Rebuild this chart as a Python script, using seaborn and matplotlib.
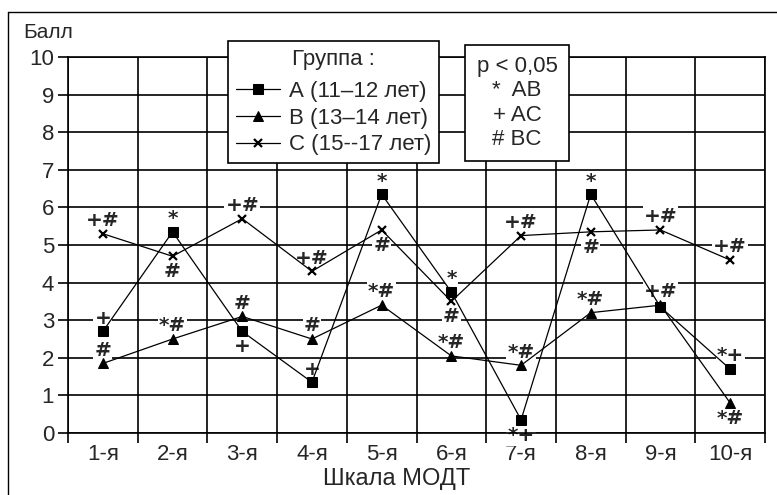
import matplotlib
matplotlib.use("Agg")
import matplotlib.pyplot as plt
import seaborn as sns
import pandas as pd
import numpy as np
from matplotlib.lines import Line2D
from matplotlib.ticker import FixedLocator

# ---- data ----
categories = ["1-я", "2-я", "3-я", "4-я", "5-я", "6-я", "7-я", "8-я", "9-я", "10-я"]
group_a = [2.7, 5.35, 2.7, 1.35, 6.35, 3.75, 0.35, 6.35, 3.35, 1.7]
group_b = [1.85, 2.5, 3.1, 2.5, 3.4, 2.05, 1.8, 3.2, 3.4, 0.8]
group_c = [5.3, 4.7, 5.7, 4.3, 5.4, 3.5, 5.25, 5.35, 5.4, 4.6]
series_labels = ["А (11–12 лет)", "В (13–14 лет)", "С (15--17 лет)"]
legend_title = "Группа :"
sig_lines = ["p < 0,05", "*  AB", "+ AC", "# BC"]

# significance marks per point and side (1 above, -1 below)
marks_a = ["+", "*", "+", "+", "*", "*", "*+", "*", "", "*+"]
side_a = [1, 1, -1, 1, 1, 1, -1, 1, 1, 1]
marks_b = ["#", "*#", "#", "#", "*#", "*#", "*#", "*#", "+#", "*#"]
side_b = [1, 1, 1, 1, 1, 1, 1, 1, 1, -1]
marks_c = ["+#", "#", "+#", "+#", "#", "#", "+#", "#", "+#", "+#"]
side_c = [1, -1, 1, 1, -1, -1, 1, -1, 1, 1]

W, H = 777, 495
FS = 16
sns.set_theme(style="white")
plt.rcParams["font.family"] = ["Liberation Sans", "DejaVu Sans"]

fig = plt.figure(figsize=(W / 100, H / 100), dpi=100)
ax = fig.add_axes([68 / W, 1 - 433 / H, (765 - 68) / W, (433 - 57) / H])

pos = np.arange(len(categories))
df = pd.DataFrame({"pos": np.tile(pos, 3),
                   "score": group_a + group_b + group_c,
                   "group": np.repeat(series_labels, len(categories))})

styles = {series_labels[0]: dict(marker="s", markersize=7),
          series_labels[1]: dict(marker="^", markersize=7),
          series_labels[2]: dict(marker="x", markersize=5.5, markeredgewidth=1.6)}
for lab in series_labels:
    sub = df[df["group"] == lab]
    sns.lineplot(data=sub, x="pos", y="score", ax=ax, color="black", lw=0.9,
                 label=lab, sort=False, zorder=3, markeredgecolor="black",
                 markerfacecolor="black", **styles[lab])

ax.set_xlim(-0.5, len(categories) - 0.5)
ax.set_ylim(0, 10)
ax.set_yticks(range(0, 11))
ax.set_xticks(pos)
ax.set_xticklabels(categories)
ax.xaxis.set_minor_locator(FixedLocator(np.arange(-0.5, len(categories), 1.0)))
ax.grid(False)
ax.grid(axis="y", which="major", color="black", lw=1.2, zorder=0)
ax.grid(axis="x", which="minor", color="black", lw=1.2, zorder=0)
ax.tick_params(axis="y", which="major", length=7, width=1.2, color="black",
               direction="out", labelsize=FS, pad=3, left=True)
ax.tick_params(axis="x", which="major", length=0, labelsize=FS, pad=8)
ax.tick_params(axis="x", which="minor", length=7, width=1.2, color="black",
               direction="out", bottom=True)
for s in ax.spines.values():
    s.set_visible(True)
    s.set_color("black")
    s.set_linewidth(1.2)

ax.set_xlabel("Шкала МОДТ", fontsize=FS + 1, va="center")
ax.xaxis.set_label_coords((397 - 68) / (765 - 68), -(479 - 433) / (433 - 57))
ax.set_ylabel("Балл", fontsize=FS - 1, rotation=0, ha="left", va="center")
ax.yaxis.set_label_coords(-45 / (765 - 68), (433 - 33) / (433 - 57))

# significance marks
for vals, marks, sides in [(group_a, marks_a, side_a), (group_b, marks_b, side_b),
                           (group_c, marks_c, side_c)]:
    for i, (v, m, sd) in enumerate(zip(vals, marks, sides)):
        if not m:
            continue
        ax.annotate(m, (i, v), xytext=(0, 9.5 if sd > 0 else -11),
                    textcoords="offset points", ha="center", va="center",
                    fontsize=14.5, fontweight="bold", family="DejaVu Sans", zorder=2,
                    bbox=dict(boxstyle="square,pad=0.05", fc="white", ec="none"))

# legend of groups
handles, labels = ax.get_legend_handles_labels()
leg = ax.legend(handles, labels, title=legend_title, loc="upper left",
                bbox_to_anchor=(228 / W, 1 - 41 / H), bbox_transform=fig.transFigure,
                borderaxespad=0, fontsize=FS, title_fontsize=FS, frameon=True,
                fancybox=False, edgecolor="black", facecolor="white", framealpha=1,
                handlelength=2.0, handletextpad=0.4, labelspacing=0.26,
                borderpad=0.35)
leg._legend_box.sep = 8
leg.get_frame().set_linewidth(1.2)
leg.set_zorder(10)

# significance legend
ax.text(517 / W, 1 - 103 / H, "\n".join(sig_lines), transform=fig.transFigure,
        ha="center", va="center", multialignment="center", fontsize=FS,
        linespacing=1.2, zorder=10,
        bbox=dict(boxstyle="square,pad=0.5", fc="white", ec="black", lw=1.2))

# outer frame (partially cropped)
fig.add_artist(Line2D([8 / W, 1.0], [1 - 12 / H, 1 - 12 / H], color="black", lw=1.0,
                      transform=fig.transFigure))
fig.add_artist(Line2D([8 / W, 8 / W], [1 - 12 / H, 0.0], color="black", lw=1.0,
                      transform=fig.transFigure))

fig.savefig("out.png", dpi=100, facecolor="white")
